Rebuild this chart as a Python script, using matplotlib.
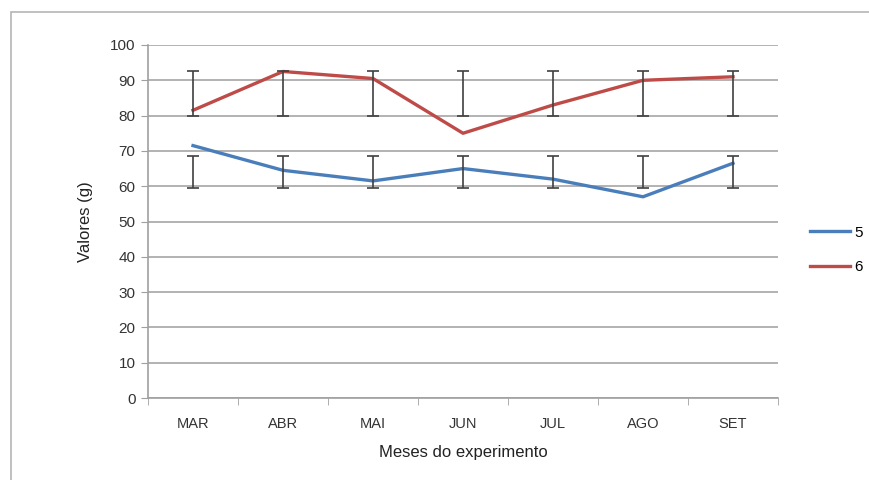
import numpy as np
import matplotlib
matplotlib.use("Agg")
import matplotlib.pyplot as plt
from matplotlib.patches import Rectangle

# data
months = ["MAR", "ABR", "MAI", "JUN", "JUL", "AGO", "SET"]
serie5 = [71.5, 64.5, 61.5, 65, 62, 57, 66.5]
serie6 = [81.5, 92.5, 90.5, 75, 83, 90, 91]
# error bars span a fixed range per series
bar5_low = [59.5] * 7
bar5_high = [68.5] * 7
bar6_low = [80] * 7
bar6_high = [92.6] * 7

plt.rcParams['font.family'] = ['Liberation Sans', 'DejaVu Sans']

fig = plt.figure(figsize=(8.7, 4.8), dpi=100)
fig.patches.append(Rectangle((11 / 870, -0.1), 1.2, 1 - 12 / 480 + 0.1,
                             transform=fig.transFigure, fill=False,
                             edgecolor="#b5b5b5", linewidth=1.2))
ax = fig.add_axes([148 / 870, 1 - 398 / 480, 630 / 870, 353 / 480])

x = np.arange(len(months))

ax.plot(x, serie5, color="#4a7ebb", lw=2.4, label="5", zorder=3)
ax.plot(x, serie6, color="#be4b48", lw=2.4, label="6", zorder=3)

for lo, hi in [(bar5_low, bar5_high), (bar6_low, bar6_high)]:
    lo = np.array(lo)
    hi = np.array(hi)
    mid = (lo + hi) / 2
    ax.errorbar(x, mid, yerr=(hi - lo) / 2, fmt="none", ecolor="#404040",
                elinewidth=1.2, capsize=4, capthick=1.2, zorder=4)

ax.set_xlim(-0.5, len(months) - 0.5)
ax.set_ylim(0, 100)
ax.set_yticks(np.arange(0, 101, 10))
ax.set_xticks(x)
ax.set_xticklabels(months)
ax.set_xticks(np.arange(-0.5, len(months), 1), minor=True)
ax.tick_params(axis="x", which="major", length=0, pad=14, labelsize=10.5, colors="#333333")
ax.tick_params(axis="x", which="minor", length=5, color="#a0a0a0")
ax.tick_params(axis="y", length=5, color="#a0a0a0", labelsize=11, colors="#333333", pad=4)
ax.tick_params(axis="y", colors="#a0a0a0", labelcolor="#333333")

ax.yaxis.grid(True, color="#a6a6a6", lw=1.2)
ax.set_axisbelow(True)
for s in ["top", "right"]:
    ax.spines[s].set_visible(False)
ax.spines["left"].set_color("#a0a0a0")
ax.spines["bottom"].set_color("#a0a0a0")
ax.spines["left"].set_linewidth(1.2)
ax.spines["bottom"].set_linewidth(1.2)

ax.set_ylabel("Valores (g)", fontsize=12, color="#222222", labelpad=12)
ax.set_xlabel("Meses do experimento", fontsize=12, color="#222222", labelpad=10)

ax.legend(loc="center left", bbox_to_anchor=(1.051, 0.419), frameon=False,
          borderpad=0, borderaxespad=0,
          fontsize=11, handlelength=2.6, handletextpad=0.3, labelspacing=1.35)

fig.savefig("out.png", dpi=100)
